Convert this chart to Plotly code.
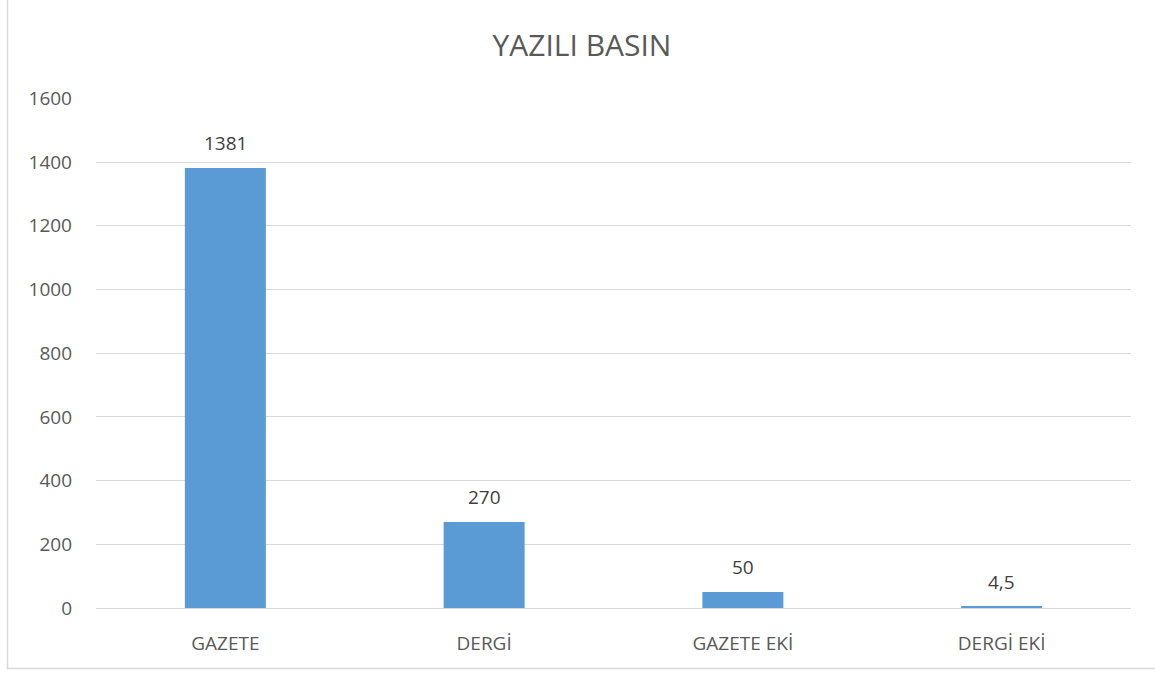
import plotly.graph_objects as go

categories = ["GAZETE", "DERGİ", "GAZETE EKİ", "DERGİ EKİ"]
values = [1381, 270, 50, 4.5]
y_ticks = [0, 200, 400, 600, 800, 1000, 1200, 1400, 1600]
title_text = "YAZILI BASIN"

labels = [(str(v) if v != int(v) else str(int(v))).replace(".", ",") for v in values]

W, H = 1155, 675
ml, mr, mt, mb = 96, 24, 98, 67
pw, ph = W - ml - mr, H - mt - mb

def px_x(p):
    return (p - ml) / pw

def px_y(p):
    return (H - mb - p) / ph

font_family = "Open Sans, Liberation Sans, sans-serif"
txt_color = "#595959"

fig = go.Figure(go.Bar(
    x=categories, y=values,
    marker=dict(color="#5B9BD5", line=dict(width=0)),
    width=0.313,
    hoverinfo="x+y",
))

annotations = [
    dict(x=c, y=v, text=t, xref="x", yref="y", showarrow=False,
         yanchor="middle", yshift=25,
         font=dict(family=font_family, size=19, color="#404040"))
    for c, v, t in zip(categories, values, labels)
]

fig.update_layout(
    width=W, height=H,
    margin=dict(l=ml, r=mr, t=mt, b=mb),
    paper_bgcolor="white", plot_bgcolor="white",
    title=dict(text=title_text, x=582 / W, xanchor="center", y=1 - 45 / H, yanchor="middle",
               font=dict(family=font_family, size=30, color=txt_color)),
    showlegend=False,
    xaxis=dict(showgrid=False, showline=True, linecolor="#D9D9D9", linewidth=1,
               ticks="", tickfont=dict(family=font_family, size=19, color=txt_color),
               ticklabelstandoff=18),
    yaxis=dict(range=[0, 1601], tickvals=y_ticks, showgrid=True, gridcolor="#D9D9D9",
               gridwidth=1, zeroline=False, showline=False, ticks="",
               tickfont=dict(family=font_family, size=19, color=txt_color),
               ticklabelstandoff=23),
    annotations=annotations,
    shapes=[dict(type="rect", xref="paper", yref="paper",
                 x0=px_x(7.5), x1=px_x(1250), y0=px_y(668.5), y1=px_y(-40),
                 line=dict(color="#D9D9D9", width=1.5), fillcolor="rgba(0,0,0,0)", layer="below")],
)

fig.write_html("out.html", config={"displayModeBar": False},
               post_script="document.body.style.margin='0';document.body.style.overflow='hidden';")
